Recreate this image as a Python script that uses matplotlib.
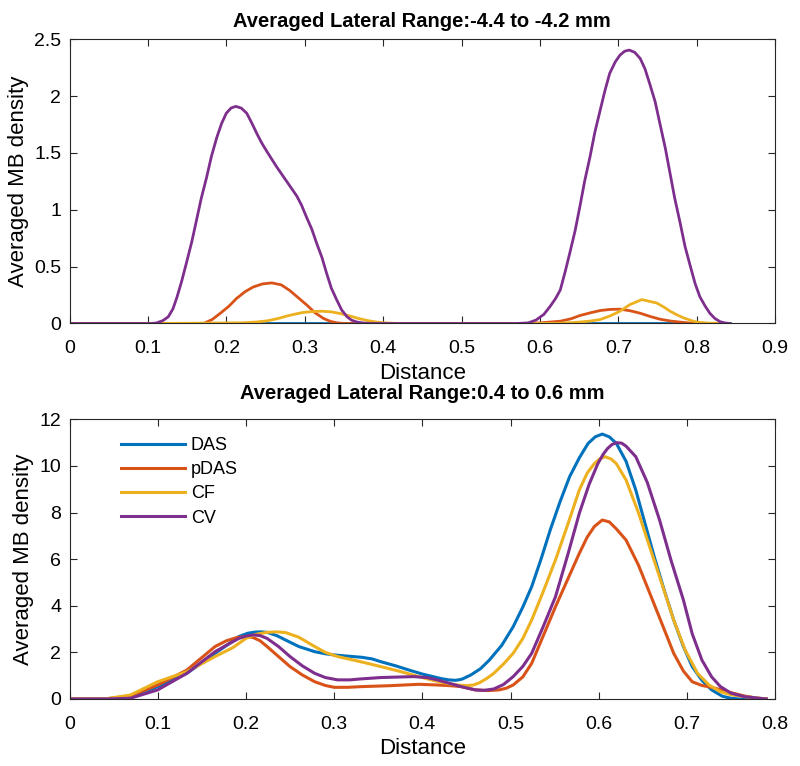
import matplotlib
matplotlib.use("Agg")
import matplotlib.pyplot as plt
from matplotlib.ticker import FuncFormatter

plt.rcParams['font.family'] = ['Liberation Sans', 'DejaVu Sans']

# ---------------- data ----------------
# top panel: lateral range -4.4 to -4.2 mm
top_das_x = [0.0, 0.842]
top_das_y = [0.0, 0.0]

top_pdas_x = [0.0, 0.171, 0.182, 0.192, 0.203, 0.213, 0.224, 0.234, 0.246, 0.258, 0.27, 0.281, 0.292, 0.303,
              0.313, 0.324, 0.333, 0.341, 0.35, 0.40,
              0.58, 0.60, 0.626, 0.64, 0.651, 0.665, 0.677, 0.69, 0.702, 0.715, 0.728, 0.74, 0.753, 0.766,
              0.779, 0.79, 0.804, 0.842]
top_pdas_y = [0.0, 0.0, 0.035, 0.088, 0.15, 0.22, 0.28, 0.32, 0.348, 0.357, 0.34, 0.29, 0.225, 0.16,
              0.095, 0.044, 0.018, 0.006, 0.0, 0.0,
              0.0, 0.005, 0.02, 0.042, 0.07, 0.095, 0.114, 0.124, 0.126, 0.112, 0.09, 0.063, 0.038, 0.022,
              0.012, 0.005, 0.0, 0.0]

top_cf_x = [0.0, 0.115, 0.221, 0.238, 0.252, 0.265, 0.277, 0.288, 0.298, 0.31, 0.322, 0.334, 0.345, 0.357,
            0.368, 0.38, 0.392, 0.40, 0.42,
            0.60, 0.626, 0.65, 0.665, 0.677, 0.69, 0.702, 0.715, 0.73, 0.749, 0.758, 0.766, 0.775, 0.783,
            0.792, 0.80, 0.815, 0.842]
top_cf_y = [0.0, 0.0, 0.006, 0.013, 0.023, 0.042, 0.065, 0.083, 0.097, 0.105, 0.108, 0.102, 0.088, 0.067,
            0.045, 0.026, 0.012, 0.006, 0.0,
            0.0, 0.002, 0.012, 0.022, 0.035, 0.068, 0.108, 0.167, 0.21, 0.18, 0.145, 0.108, 0.075, 0.05,
            0.028, 0.012, 0.003, 0.0]

top_cv_x = [0.0, 0.105, 0.111, 0.119, 0.126, 0.132, 0.137, 0.143, 0.149, 0.156, 0.162, 0.168, 0.175, 0.181,
            0.188, 0.194, 0.2, 0.206, 0.212, 0.219, 0.226, 0.232, 0.239, 0.245, 0.252, 0.264, 0.277,
            0.29, 0.296, 0.302, 0.309, 0.315, 0.322, 0.328, 0.334, 0.341, 0.347, 0.354, 0.36, 0.367,
            0.375, 0.385, 0.40,
            0.57, 0.585, 0.595, 0.605, 0.613, 0.62, 0.626, 0.632, 0.638, 0.645, 0.651, 0.657, 0.664,
            0.67, 0.677, 0.683, 0.689, 0.696, 0.702, 0.708, 0.714, 0.721, 0.728, 0.734, 0.74, 0.747,
            0.753, 0.76, 0.766, 0.772, 0.779, 0.785, 0.792, 0.798, 0.804, 0.811, 0.817, 0.823, 0.83,
            0.836, 0.842]
top_cv_y = [0.0, 0.0, 0.005, 0.025, 0.059, 0.13, 0.23, 0.37, 0.53, 0.72, 0.91, 1.1, 1.29, 1.47,
            1.64, 1.76, 1.85, 1.895, 1.91, 1.895, 1.85, 1.77, 1.67, 1.59, 1.51, 1.38, 1.25,
            1.12, 1.04, 0.94, 0.83, 0.71, 0.58, 0.44, 0.31, 0.205, 0.12, 0.059, 0.028, 0.012,
            0.004, 0.0, 0.0,
            0.0, 0.005, 0.03, 0.08, 0.15, 0.22, 0.295, 0.45, 0.617, 0.82, 1.03, 1.25, 1.47,
            1.68, 1.88, 2.05, 2.2, 2.3, 2.36, 2.395, 2.405, 2.385, 2.33, 2.24, 2.11, 1.95,
            1.76, 1.54, 1.32, 1.1, 0.88, 0.68, 0.5, 0.35, 0.235, 0.15, 0.088, 0.045, 0.015,
            0.005, 0.0]

# bottom panel: lateral range 0.4 to 0.6 mm
bot_das_x = [0.0, 0.04, 0.069, 0.1, 0.133, 0.165, 0.18, 0.192, 0.202, 0.21, 0.217, 0.224, 0.235, 0.245,
             0.26, 0.278, 0.29, 0.30, 0.315, 0.331, 0.343, 0.353, 0.37, 0.385, 0.4, 0.412, 0.422, 0.43,
             0.438, 0.445, 0.455, 0.466, 0.476, 0.49, 0.503, 0.514, 0.524, 0.535, 0.545, 0.556, 0.567,
             0.578, 0.588, 0.596, 0.604, 0.612, 0.62, 0.631, 0.642, 0.652, 0.663, 0.674, 0.685, 0.696,
             0.706, 0.717, 0.728, 0.74, 0.75, 0.76, 0.79]
bot_das_y = [0.0, 0.0, 0.1, 0.53, 1.1, 1.96, 2.35, 2.68, 2.82, 2.87, 2.88, 2.86, 2.72, 2.53,
             2.25, 2.03, 1.94, 1.89, 1.84, 1.79, 1.72, 1.6, 1.42, 1.24, 1.07, 0.96, 0.87, 0.82,
             0.8, 0.85, 1.03, 1.3, 1.67, 2.3, 3.1, 3.95, 4.82, 6.05, 7.25, 8.45, 9.54,
             10.35, 10.97, 11.25, 11.37, 11.25, 10.97, 10.2, 8.97, 7.6, 6.1, 4.7, 3.39, 2.25,
             1.39, 0.8, 0.39, 0.12, 0.03, 0.0, 0.0]

bot_pdas_x = [0.0, 0.04, 0.069, 0.1, 0.133, 0.165, 0.178, 0.19, 0.2, 0.208, 0.216, 0.224, 0.237, 0.25,
              0.264, 0.278, 0.29, 0.30, 0.315, 0.331, 0.363, 0.396, 0.417, 0.432, 0.444, 0.46, 0.475,
              0.487, 0.495, 0.503, 0.514, 0.524, 0.537, 0.551, 0.565, 0.578, 0.587, 0.595, 0.604,
              0.612, 0.62, 0.631, 0.645, 0.658, 0.672, 0.685, 0.696, 0.706, 0.717, 0.728, 0.74, 0.75,
              0.765, 0.78, 0.79]
bot_pdas_y = [0.0, 0.0, 0.13, 0.6, 1.24, 2.25, 2.5, 2.64, 2.68, 2.64, 2.5, 2.25, 1.82, 1.39,
              1.03, 0.74, 0.58, 0.5, 0.5, 0.53, 0.57, 0.63, 0.6, 0.57, 0.53, 0.39, 0.36,
              0.39, 0.46, 0.6, 0.95, 1.53, 2.7, 3.96, 5.15, 6.25, 6.95, 7.4, 7.68,
              7.6, 7.3, 6.82, 5.75, 4.53, 3.2, 1.96, 1.2, 0.74, 0.58, 0.5, 0.38, 0.27,
              0.13, 0.03, 0.0]

bot_cf_x = [0.0, 0.04, 0.069, 0.1, 0.133, 0.165, 0.185, 0.2, 0.212, 0.224, 0.235, 0.245, 0.26, 0.278,
            0.29, 0.304, 0.33, 0.353, 0.375, 0.396, 0.412, 0.428, 0.44, 0.45, 0.458, 0.465, 0.473,
            0.481, 0.492, 0.503, 0.514, 0.524, 0.537, 0.551, 0.565, 0.578, 0.587, 0.595, 0.601,
            0.607, 0.614, 0.62, 0.631, 0.645, 0.658, 0.672, 0.685, 0.698, 0.712, 0.725, 0.738, 0.75,
            0.765, 0.79]
bot_cf_y = [0.0, 0.0, 0.17, 0.74, 1.17, 1.82, 2.2, 2.6, 2.78, 2.86, 2.88, 2.85, 2.65, 2.25,
            2.0, 1.82, 1.6, 1.39, 1.18, 0.96, 0.8, 0.67, 0.6, 0.57, 0.6, 0.7, 0.88,
            1.1, 1.5, 1.96, 2.6, 3.39, 4.6, 5.97, 7.5, 8.97, 9.7, 10.1, 10.3,
            10.4, 10.3, 10.1, 9.4, 8.0, 6.5, 4.9, 3.39, 2.1, 1.1, 0.6, 0.31, 0.18,
            0.1, 0.0]

bot_cv_x = [0.0, 0.04, 0.069, 0.1, 0.133, 0.165, 0.18, 0.192, 0.2, 0.208, 0.216, 0.224, 0.237, 0.25,
            0.264, 0.278, 0.29, 0.304, 0.318, 0.33, 0.353, 0.39, 0.405, 0.417, 0.43, 0.444, 0.46,
            0.47, 0.481, 0.492, 0.503, 0.514, 0.524, 0.537, 0.551, 0.565, 0.578, 0.589, 0.599,
            0.605, 0.61, 0.615, 0.62, 0.626, 0.631, 0.642, 0.655, 0.669, 0.682, 0.696, 0.706, 0.717,
            0.728, 0.738, 0.75, 0.765, 0.79]
bot_cv_y = [0.0, 0.0, 0.03, 0.39, 1.1, 2.03, 2.35, 2.6, 2.7, 2.75, 2.72, 2.6, 2.25, 1.82,
            1.42, 1.1, 0.92, 0.82, 0.82, 0.86, 0.92, 0.96, 0.92, 0.82, 0.68, 0.53, 0.39,
            0.37, 0.43, 0.62, 0.96, 1.4, 1.96, 3.1, 4.39, 6.2, 7.97, 9.2, 10.1,
            10.5, 10.75, 10.92, 11.0, 10.98, 10.85, 10.4, 9.3, 7.68, 5.95, 4.25, 2.8, 1.67,
            0.95, 0.53, 0.25, 0.1, 0.0]

labels = ['DAS', 'pDAS', 'CF', 'CV']
colors = ['#0072BD', '#D95319', '#EDB120', '#7E2F8E']

top_title = 'Averaged Lateral Range:-4.4 to -4.2 mm'
bot_title = 'Averaged Lateral Range:0.4 to 0.6 mm'

# ---------------- figure ----------------
fig = plt.figure(figsize=(8, 7.66), dpi=100)
ax1 = fig.add_axes([0.0869, 0.5777, 0.882, 0.371])
ax2 = fig.add_axes([0.0869, 0.0875, 0.882, 0.365])

top_series = [(top_das_x, top_das_y), (top_pdas_x, top_pdas_y), (top_cf_x, top_cf_y), (top_cv_x, top_cv_y)]
bot_series = [(bot_das_x, bot_das_y), (bot_pdas_x, bot_pdas_y), (bot_cf_x, bot_cf_y), (bot_cv_x, bot_cv_y)]

for (x, y), c, lab in zip(top_series, colors, labels):
    ax1.plot(x, y, color=c, lw=2.0, label=lab, solid_joinstyle='round')
for (x, y), c, lab in zip(bot_series, colors, labels):
    ax2.plot(x, y, color=c, lw=2.2, label=lab, solid_joinstyle='round')

fmt = FuncFormatter(lambda v, p: '%g' % round(v, 6))

for ax, title, xmax, ymax, ystep, tpad in [(ax1, top_title, 0.9, 2.5, 0.5, 9), (ax2, bot_title, 0.8, 12, 2, 15)]:
    ax.set_xlim(0, xmax)
    ax.set_ylim(0, ymax)
    ax.set_xticks([i / 10 for i in range(int(round(xmax * 10)) + 1)])
    ax.set_yticks([i * ystep for i in range(int(round(ymax / ystep)) + 1)])
    ax.xaxis.set_major_formatter(fmt)
    ax.yaxis.set_major_formatter(fmt)
    ax.tick_params(direction='in', top=True, right=True, length=5, width=0.8,
                   labelsize=14, colors='#262626', labelcolor='black')
    ax.tick_params(axis='x', pad=12)
    ax.tick_params(axis='y', pad=6)
    for s in ax.spines.values():
        s.set_color('#262626')
        s.set_linewidth(0.8)
    ax.set_xlabel('Distance', fontsize=16, labelpad=4)
    ax.set_ylabel('Averaged MB density', fontsize=16, labelpad=4)
    ax.set_title(title, fontsize=14.5, fontweight='bold', pad=tpad)

ax2.legend(loc='upper left', frameon=False, fontsize=13, handlelength=3.55,
           handletextpad=0.32, labelspacing=0.4, bbox_to_anchor=(0.05, 0.995))

fig.savefig('out.png', dpi=100)
